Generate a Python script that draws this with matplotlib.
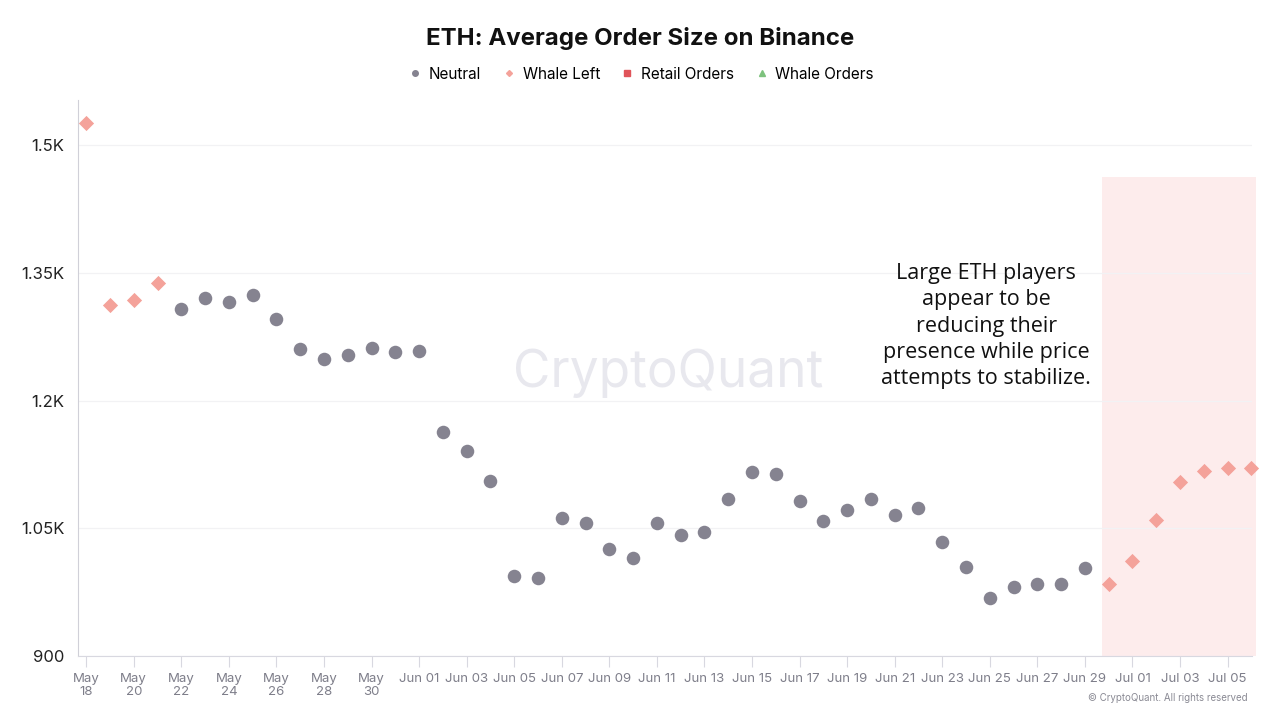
import matplotlib
matplotlib.use("Agg")
import matplotlib.pyplot as plt
import matplotlib.dates as mdates
from matplotlib.lines import Line2D
import pandas as pd

plt.rcParams['font.family'] = ['Inter', 'DejaVu Sans']

# daily values, May 18 .. Jul 06
dates = pd.date_range("2025-05-18", "2025-07-06", freq="D")
order_size = [1526, 1312, 1318, 1338, 1307, 1320, 1316, 1324, 1296, 1260,
              1249, 1253, 1262, 1257, 1258, 1163, 1141, 1106, 994, 992,
              1062, 1056, 1026, 1015, 1056, 1042, 1046, 1084, 1116, 1114,
              1082, 1059, 1071, 1084, 1066, 1074, 1034, 1005, 968, 981,
              985, 985, 1003, 985, 1011, 1060, 1104, 1117, 1121, 1121]
category = (["whale_left"] * 4 + ["neutral"] * 39 + ["whale_left"] * 7)

yticks = [900, 1050, 1200, 1350, 1500]
ytick_labels = ["900", "1.05K", "1.2K", "1.35K", "1.5K"]

NEUTRAL = "#858390"
WHALE_LEFT = "#F4A29A"
RETAIL = "#E0545A"
WHALE = "#7DC27D"

fig = plt.figure(figsize=(12.8, 7.2), dpi=100)
ax = fig.add_axes([0.061, 0.089, 0.917, 0.772])

xs_n = [d for d, c in zip(dates, category) if c == "neutral"]
ys_n = [v for v, c in zip(order_size, category) if c == "neutral"]
xs_w = [d for d, c in zip(dates, category) if c == "whale_left"]
ys_w = [v for v, c in zip(order_size, category) if c == "whale_left"]

ax.scatter(xs_n, ys_n, s=95, color=NEUTRAL, marker="o", lw=0, zorder=3, clip_on=False)
ax.scatter(xs_w, ys_w, s=60, color=WHALE_LEFT, marker="D", lw=0, zorder=3, clip_on=False)

x0 = mdates.date2num(dates[0])
ax.set_xlim(x0 - 0.34, x0 + 49.02)
ax.set_ylim(900, 1553)

# highlighted region
shade_start = mdates.date2num(pd.Timestamp("2025-06-29")) + 0.7
ax.add_patch(plt.Rectangle((shade_start, 900), x0 + 49.2 - shade_start, 563,
                           facecolor="#FDECEC", edgecolor="none", zorder=1, clip_on=False))

ax.set_yticks(yticks)
ax.set_yticklabels(ytick_labels)
ax.grid(axis="y", color="#F2F2F4", lw=0.9, zorder=0)
ax.grid(axis="x", visible=False)

xt = dates[::2]
ax.set_xticks(xt)
ax.set_xticklabels([f"May\n{d.day:02d}" if d.month == 5 else d.strftime("%b %d") for d in xt],
                   va="top")
ax.tick_params(axis="x", length=8, color="#D8D8E0", labelcolor="#7E7E8A", labelsize=9.5, pad=4)
ax.tick_params(axis="y", length=0, labelcolor="#222222", labelsize=12, pad=10)

for s in ["top", "right"]:
    ax.spines[s].set_visible(False)
ax.spines["left"].set_color("#D0D0D8")
ax.spines["bottom"].set_color("#D8D8E0")

fig.text(0.5, 0.947, "ETH: Average Order Size on Binance", ha="center", va="center",
         fontsize=17.3, fontweight="bold", color="#111111")

handles = [
    Line2D([], [], marker="o", ls="", color=NEUTRAL, markersize=4),
    Line2D([], [], marker="D", ls="", color=WHALE_LEFT, markersize=3),
    Line2D([], [], marker="s", ls="", color=RETAIL, markersize=4),
    Line2D([], [], marker="^", ls="", color=WHALE, markersize=4),
]
fig.legend(handles, ["Neutral", "Whale Left", "Retail Orders", "Whale Orders"],
           loc="center", bbox_to_anchor=(0.5, 0.897), ncol=4, frameon=False,
           fontsize=11, handletextpad=0.3, columnspacing=1.2, handlelength=1.2)

fig.text(0.522, 0.482, "CryptoQuant", ha="center", va="center", fontsize=37,
         color="#E8E8EE", zorder=0)

ax.text(0.7705, 0.547, "Large ETH players\nappear to be\nreducing their\npresence while price\nattempts to stabilize.",
        transform=fig.transFigure, ha="center", va="center", fontsize=15.5,
        family=["Open Sans", "DejaVu Sans"], linespacing=1.33, color="#111111")

fig.text(0.975, 0.03, "© CryptoQuant. All rights reserved", ha="right", va="center",
         fontsize=7, color="#8A8A94")

fig.savefig("out.png", dpi=100)
